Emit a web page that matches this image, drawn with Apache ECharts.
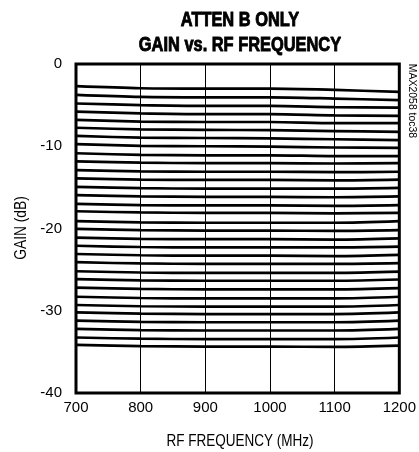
<!DOCTYPE html>
<html>
<head>
<meta charset="utf-8">
<script src="https://cdn.jsdelivr.net/npm/echarts@6/dist/echarts.min.js"></script>
<style>html,body{margin:0;padding:0;background:#fff}#c{width:419px;height:452px}</style>
</head>
<body>
<div id="c"></div>
<script>
const freqs = [700, 800, 900, 1000, 1100, 1200];
const xTicks = [700, 800, 900, 1000, 1100, 1200];
const yTicks = [0, -10, -20, -30, -40];
const gains = [
  [-2.7, -2.95, -3.0, -3.0, -3.15, -3.4],
  [-3.75, -4.0, -4.05, -4.05, -4.2, -4.4],
  [-4.8, -5.0, -5.1, -5.1, -5.25, -5.3],
  [-5.8, -6.0, -6.1, -6.1, -6.25, -6.3],
  [-6.8, -7.0, -7.05, -7.05, -7.2, -7.2],
  [-7.75, -7.95, -8.0, -8.05, -8.15, -8.25],
  [-8.75, -8.95, -9.0, -9.05, -9.15, -9.25],
  [-9.75, -9.95, -10.0, -10.05, -10.15, -10.2],
  [-10.85, -11.05, -11.1, -11.1, -11.2, -11.2],
  [-11.85, -12.0, -12.05, -12.05, -12.1, -12.05],
  [-12.9, -13.05, -13.1, -13.1, -13.15, -13.1],
  [-13.9, -14.05, -14.1, -14.1, -14.15, -14.05],
  [-14.95, -15.1, -15.15, -15.15, -15.15, -15.05],
  [-15.95, -16.1, -16.15, -16.15, -16.2, -16.1],
  [-17.0, -17.15, -17.2, -17.2, -17.25, -17.15],
  [-17.9, -18.05, -18.1, -18.1, -18.15, -18.1],
  [-19.1, -19.25, -19.3, -19.3, -19.3, -19.1],
  [-20.05, -20.2, -20.25, -20.25, -20.3, -20.2],
  [-21.1, -21.25, -21.3, -21.3, -21.35, -21.2],
  [-22.1, -22.25, -22.3, -22.3, -22.3, -22.2],
  [-23.1, -23.25, -23.3, -23.3, -23.35, -23.2],
  [-24.1, -24.25, -24.3, -24.3, -24.3, -24.2],
  [-25.2, -25.35, -25.4, -25.4, -25.4, -25.25],
  [-26.15, -26.3, -26.35, -26.35, -26.35, -26.2],
  [-27.2, -27.35, -27.4, -27.4, -27.4, -27.25],
  [-28.3, -28.45, -28.5, -28.5, -28.5, -28.3],
  [-29.3, -29.45, -29.5, -29.5, -29.5, -29.3],
  [-30.2, -30.35, -30.4, -30.4, -30.4, -30.2],
  [-31.2, -31.35, -31.4, -31.4, -31.4, -31.2],
  [-32.2, -32.35, -32.4, -32.4, -32.4, -32.2],
  [-33.25, -33.4, -33.45, -33.45, -33.45, -33.25],
  [-34.15, -34.3, -34.35, -34.35, -34.4, -34.25]
];
const titleLines = ['ATTEN B ONLY', 'GAIN vs. RF FREQUENCY'];
const xName = 'RF FREQUENCY (MHz)';
const yName = 'GAIN (dB)';
const tag = 'MAX2058 toc38';

const FONT = '"Liberation Sans Narrow", "Liberation Sans", Arial, sans-serif';
const chart = echarts.init(document.getElementById('c'), null, {renderer: 'canvas'});
const series = gains.map((g, i) => ({
  type: 'line',
  name: 'L' + i,
  data: freqs.map((f, j) => [f, g[j]]),
  symbol: 'none',
  smooth: 0.3,
  lineStyle: {color: '#000', width: 2.7},
  silent: true,
  z: 3
}));
chart.setOption({
  animation: false,
  backgroundColor: '#fff',
  grid: {left: 76, right: 13, top: 64, bottom: 59, show: true, borderColor: '#000', borderWidth: 3, backgroundColor: 'transparent', z: 5},
  xAxis: {
    type: 'value', min: 700, max: 1200, interval: 100,
    axisLine: {show: false}, axisTick: {show: false},
    splitLine: {show: true, lineStyle: {color: '#000', width: 1}},
    axisLabel: {color: '#000', fontFamily: FONT, fontSize: 15, margin: 7,
      formatter: v => xTicks.includes(v) ? String(v) : ''}
  },
  yAxis: {
    type: 'value', min: -40, max: 0, interval: 10,
    axisLine: {show: false}, axisTick: {show: false},
    splitLine: {show: false},
    axisLabel: {color: '#000', fontFamily: FONT, fontSize: 15, margin: 14,
      formatter: v => yTicks.includes(v) ? String(v) : ''}
  },
  graphic: [
    {type: 'text', x: 240, y: 20.5, scaleX: 0.82, style: {text: titleLines[0], textAlign: 'center', textVerticalAlign: 'middle', font: 'bold 20px ' + FONT, fill: '#000', stroke: '#000', lineWidth: 0.9}},
    {type: 'text', x: 240, y: 45, scaleX: 0.82, style: {text: titleLines[1], textAlign: 'center', textVerticalAlign: 'middle', font: 'bold 20px ' + FONT, fill: '#000', stroke: '#000', lineWidth: 0.9}},
    {type: 'text', x: 240, y: 442, scaleX: 0.845, style: {text: xName, textAlign: 'center', textVerticalAlign: 'middle', font: '16px ' + FONT, fill: '#000'}},
    {type: 'text', x: 22, y: 228, rotation: Math.PI / 2, scaleX: 0.86, style: {text: yName, textAlign: 'center', textVerticalAlign: 'middle', font: '16px ' + FONT, fill: '#000'}},
    {type: 'text', x: 412, y: 101, rotation: -Math.PI / 2, scaleX: 0.95, style: {text: tag, textAlign: 'center', textVerticalAlign: 'middle', font: '11px ' + FONT, fill: '#000'}}
  ],
  series: series
});
</script>
</body>
</html>
